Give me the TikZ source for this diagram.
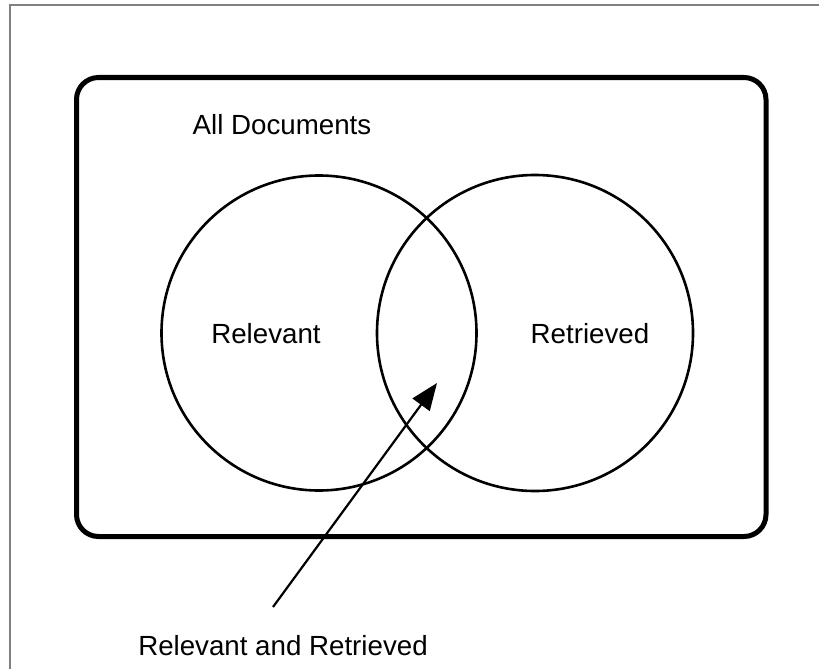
\documentclass[tikz,border=0pt]{standalone}
\usepackage{fontspec}
\setmainfont{Liberation Sans}
\usetikzlibrary{arrows.meta}
\begin{document}
\begin{tikzpicture}[x=1pt,y=-1pt,
  lbl/.style={font=\fontsize{27.7}{33}\selectfont, anchor=base, inner sep=0pt},
  setcircle/.style={draw=black, line width=2.6pt},
  universe/.style={draw=black, line width=5pt, rounded corners=22pt},
  pointer/.style={draw=black, line width=2.2pt, -{Triangle[length=27pt,width=21pt]}}]
  \useasboundingbox (0,0) rectangle (819,669);
  % page frame
  \draw[gray, line width=1.2pt] (10,669) -- (10,5) -- (819,5);
  % universe of documents
  \draw[universe] (76.5,77.5) rectangle (766,536.5);
  \node[lbl] (all) at (282,134) {All Documents};
  % the two sets
  \node[setcircle, circle, minimum size=315pt, inner sep=0pt] (relc) at (319,333) {};
  \node[setcircle, circle, minimum size=316pt, inner sep=0pt] (retc) at (535,333) {};
  \node[lbl] (rel) at (266,343) {Relevant};
  \node[lbl] (ret) at (590,343) {Retrieved};
  % intersection label and pointer
  \node[lbl] (both) at (283,655) {Relevant and Retrieved};
  \coordinate (tail) at (273,607);
  \coordinate (tip) at (437,383);
  \draw[pointer] (tail) -- (tip);
\end{tikzpicture}
\end{document}
